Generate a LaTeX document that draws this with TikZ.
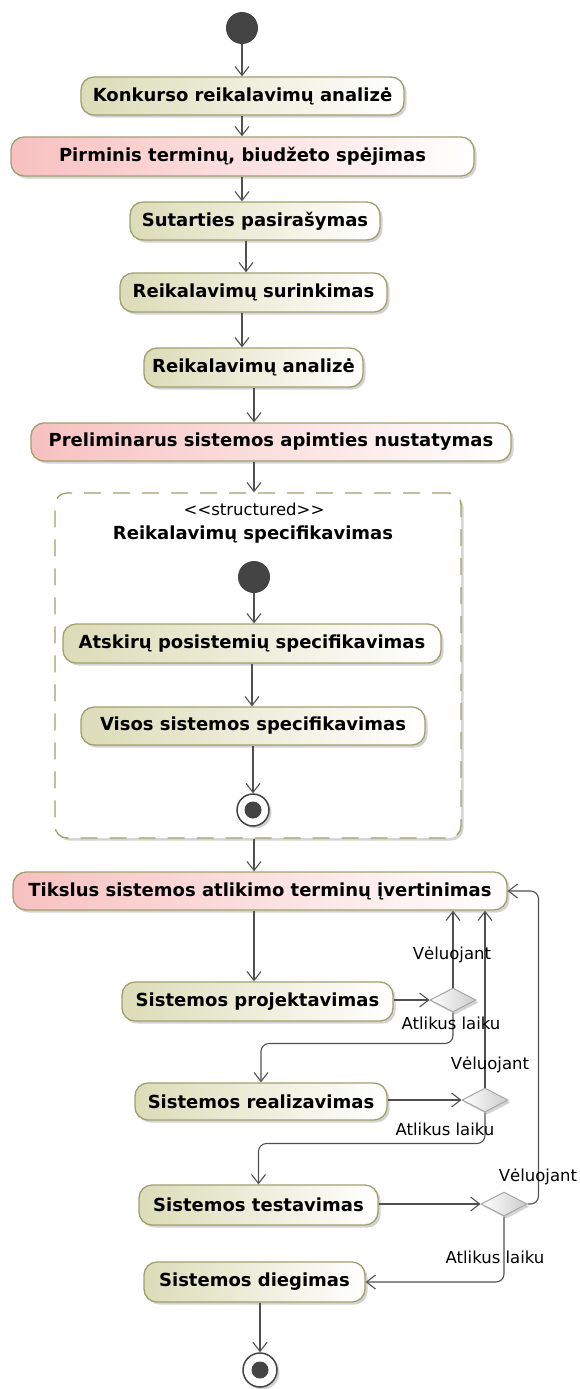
\documentclass[tikz,border=0pt]{standalone}
\usepackage{fontspec}
\setmainfont{DejaVu Sans}
\usetikzlibrary{shapes.geometric,shadows,arrows.meta}
\definecolor{actL}{RGB}{220,220,184}
\definecolor{pinkL}{RGB}{248,192,192}
\definecolor{khaki}{RGB}{160,160,110}
\definecolor{ink}{RGB}{68,68,68}
\definecolor{lineC}{RGB}{80,80,80}
\begin{document}
\begin{tikzpicture}[x=1pt,y=-1pt,
  shadowed/.style={drop shadow={shadow xshift=2.5pt,shadow yshift=-2.5pt,opacity=0.35,fill=gray}},
  act/.style={rectangle,rounded corners=13pt,draw=khaki,line width=1.3pt,
    left color=actL,right color=white,inner sep=0pt,text=black,
    font=\fontsize{18}{21}\selectfont\bfseries,shadowed},
  crit/.style={act,left color=pinkL},
  initnode/.style={circle,fill=ink,minimum size=32pt,inner sep=0pt},
  finalnode/.style={circle,draw=ink,line width=1.5pt,fill=white,minimum size=32pt,inner sep=0pt,shadowed,
    path picture={\fill[ink] (path picture bounding box.center) circle (8.5pt);}},
  decision/.style={diamond,draw=gray!70,line width=1pt,left color=white,right color=gray!40,
    minimum width=46pt,minimum height=24pt,inner sep=0pt,shadowed},
  specbox/.style={rectangle,rounded corners=12pt,draw=khaki,line width=1.3pt,
    dash pattern=on 17pt off 12pt,fill=white,shadowed},
  guard/.style={font=\fontsize{16.5}{19}\selectfont,text=black,inner sep=0pt},
  flow/.style={draw=lineC,line width=1.1pt,rounded corners=8pt,
    -{Straight Barb[length=9pt,width=14pt]}}
]
\useasboundingbox (0,0) rectangle (579,1389);

% columns used by the vertical flows
\coordinate (cA) at (242,0);
\coordinate (cB) at (246,0);
\coordinate (cC) at (254,0);

% main sequence
\node[initnode] (i0) at (242,28) {};
\node[act,minimum width=323pt,minimum height=38pt] (konk) at (242.5,96) {Konkurso reikalavimų analizė};
\node[crit,minimum width=463pt,minimum height=39pt] (pirm) at (242.5,156.5) {Pirminis terminų, biudžeto spėjimas};
\node[act,minimum width=250pt,minimum height=38pt] (sut) at (255,221) {Sutarties pasirašymas};
\node[act,minimum width=267pt,minimum height=39pt] (sur) at (253.5,292.5) {Reikalavimų surinkimas};
\node[act,minimum width=219pt,minimum height=39pt] (anal) at (253.5,367.5) {Reikalavimų analizė};
\node[crit,minimum width=480pt,minimum height=38pt] (prel) at (271,442) {Preliminarus sistemos apimties nustatymas};

% structured activity
\node[specbox,minimum width=406pt,minimum height=345pt] (spec) at (258,665.5) {};
\node[guard] (stereo) at (254,509) {<{}<structured>{}>};
\node[font=\fontsize{18}{21}\selectfont\bfseries,inner sep=0pt] (spectitle) at (253,535) {Reikalavimų specifikavimas};
\node[initnode] (i1) at (254,577) {};
\node[act,minimum width=378pt,minimum height=39pt] (atsk) at (252,643.5) {Atskirų posistemių specifikavimas};
\node[act,minimum width=344pt,minimum height=38pt] (visos) at (253,726) {Visos sistemos specifikavimas};
\node[finalnode] (f1) at (253,810) {};

% estimation loop
\node[crit,minimum width=494pt,minimum height=38pt] (tiks) at (260,891) {Tikslus sistemos atlikimo terminų įvertinimas};
\node[act,minimum width=271pt,minimum height=39pt] (proj) at (257.5,1001.5) {Sistemos projektavimas};
\node[decision] (d1) at (453,1000) {};
\node[act,minimum width=252pt,minimum height=37pt] (real) at (261,1101.5) {Sistemos realizavimas};
\node[decision] (d2) at (485,1100) {};
\node[act,minimum width=239pt,minimum height=40pt] (test) at (258.5,1205) {Sistemos testavimas};
\node[decision] (d3) at (504,1204) {};
\node[act,minimum width=221pt,minimum height=40pt] (dieg) at (254.5,1282) {Sistemos diegimas};
\node[finalnode,minimum size=34pt] (f2) at (260,1370) {};

% flows
\draw[flow] (i0) -- (konk.north -| i0);
\draw[flow] (konk.south -| cA) -- (pirm.north -| cA);
\draw[flow] (pirm.south -| cA) -- (sut.north -| cA);
\draw[flow] (sut.south -| cB) -- (sur.north -| cB);
\draw[flow] (sur.south -| cA) -- (anal.north -| cA);
\draw[flow] (anal.south -| cC) -- (prel.north -| cC);
\draw[flow] (prel.south -| cC) -- (spec.north -| cC);
\draw[flow] (i1) -- (atsk.north -| i1);
\draw[flow] (atsk.south) -- (visos.north -| atsk.south);
\draw[flow] (visos.south -| f1) -- (f1);
\draw[flow] (spec.south -| cC) -- (tiks.north -| cC);
\draw[flow] (tiks.south -| cC) -- (proj.north -| cC);

\draw[flow] (proj.east |- d1) -- (d1.west);
\draw[flow] (d1.north) -- (tiks.south -| d1);
\draw[flow] (d1.south) -- ++(0,31) -| (real.north);

\draw[flow] (real.east |- d2) -- (d2.west);
\draw[flow] (d2.north) -- (tiks.south -| d2);
\draw[flow] (d2.south) -- ++(0,31) -| (test.north);

\draw[flow] (test.east |- d3) -- (d3.west);
\draw[flow] (d3.east) -- ++(11,0) |- (tiks.east);
\draw[flow] (d3.south) |- (dieg.east);
\draw[flow] (dieg.south -| f2) -- (f2);

% guards
\node[guard] (g1a) at (452,955) {Vėluojant};
\node[guard] (g1b) at (451,1023) {Atlikus laiku};
\node[guard] (g2a) at (490,1065) {Vėluojant};
\node[guard] (g2b) at (445,1129) {Atlikus laiku};
\node[guard] (g3a) at (538,1177) {Vėluojant};
\node[guard] (g3b) at (495,1257) {Atlikus laiku};
\end{tikzpicture}
\end{document}
